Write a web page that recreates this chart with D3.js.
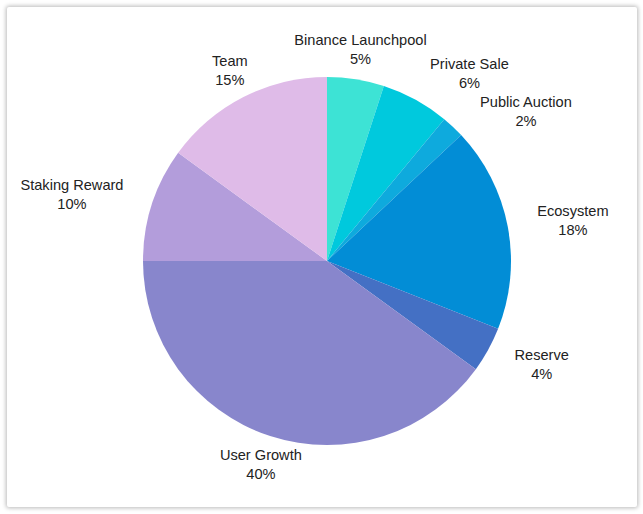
<!DOCTYPE html>
<html>
<head>
<meta charset="utf-8">
<script src="https://cdn.jsdelivr.net/npm/d3@7"></script>
<style>
  html, body { margin: 0; padding: 0; background: #fff; }
  #card {
    position: absolute; left: 7px; top: 7px; width: 630px; height: 500px;
    background: #fff; border-radius: 2px;
    box-shadow: 0 0 4px 1px rgba(0,0,0,0.28);
  }
  svg { position: absolute; left: 0; top: 0; }
</style>
</head>
<body>
<div id="card"></div>
<svg id="chart" width="643" height="514"></svg>
<script>
const categories = ["Binance Launchpool", "Private Sale", "Public Auction", "Ecosystem", "Reserve", "User Growth", "Staking Reward", "Team"];
const values = [5, 6, 2, 18, 4, 40, 10, 15];
const colors = ["#3de3d5", "#00c9dd", "#0eaadd", "#028dd6", "#4470c4", "#8886cc", "#b39ddb", "#dfbbe8"];

const W = 643, H = 514;
const cx = 327, cy = 261, R = 184, RL = 214;
const svg = d3.select("#chart");
const g = svg.append("g").attr("transform", `translate(${cx},${cy})`);

const data = categories.map((c, i) => ({ name: c, value: values[i], color: colors[i] }));
const pie = d3.pie().value(d => d.value).sort(null);
const arcs = pie(data);
const arc = d3.arc().innerRadius(0).outerRadius(R);

g.selectAll("path").data(arcs).enter().append("path")
  .attr("d", arc).attr("fill", d => d.data.color);

// label layout: anchor points on a circle of radius RL, resolved for vertical overlap
const lineH = 19, boxH = 38;
const labels = arcs.map(a => {
  const ang = (a.startAngle + a.endAngle) / 2;
  const s = Math.sin(ang), c = Math.cos(ang);
  return { a, s, x: RL * s, y: -RL * c, side: s > 0.47 ? "start" : (s < -0.47 ? "end" : "middle") };
});
const right = labels.filter(l => l.side === "start").sort((p, q) => p.y - q.y);
for (let i = 1; i < right.length; i++) {
  const prev = right[i - 1], cur = right[i];
  if (cur.y - prev.y < boxH) {
    cur.y = prev.y + boxH;
    const dy = Math.min(Math.abs(cur.y), RL);
    cur.x = Math.sqrt(RL * RL - dy * dy);
  }
}
const lg = g.selectAll("text.lbl").data(labels).enter().append("text")
  .attr("class", "lbl")
  .attr("font-family", "'Liberation Sans', Arial, sans-serif")
  .attr("font-size", 14.6)
  .attr("fill", "#222")
  .attr("text-anchor", d => d.side);
lg.append("tspan").attr("x", d => d.x).attr("y", d => d.y - lineH / 2 + 5).text(d => d.a.data.name);
lg.append("tspan").attr("x", d => d.x)
  .attr("y", d => d.y + lineH / 2 + 5)
  .attr("text-anchor", "middle")
  .attr("dx", function(d) {
    const w = this.parentNode.firstChild.getComputedTextLength();
    return d.side === "start" ? w / 2 : (d.side === "end" ? -w / 2 : 0);
  })
  .text(d => d.a.data.value + "%");
</script>
</body>
</html>
